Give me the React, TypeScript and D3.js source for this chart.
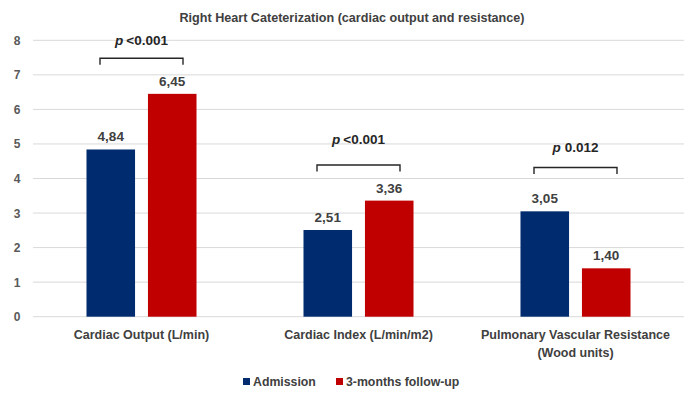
import React from 'react';
import * as d3 from 'd3';

const categories = ['Cardiac Output (L/min)', 'Cardiac Index (L/min/m2)', 'Pulmonary Vascular Resistance (Wood units)'];
const categoryLines = [['Cardiac Output (L/min)'], ['Cardiac Index (L/min/m2)'], ['Pulmonary Vascular Resistance', '(Wood units)']];
const series = ['Admission', '3-months follow-up'];
const admission = [4.84, 2.51, 3.05];
const followUp = [6.45, 3.36, 1.4];
const pLabels = ['<0.001', '<0.001', '0.012'];
const bracketLevels = [7.48, 4.39, 4.32];
const pTextLevels = [7.87, 4.99, 4.78];
const yTicks = [0, 1, 2, 3, 4, 5, 6, 7, 8];

const W = 694;
const H = 397;
const FONT = '"Liberation Sans", Arial, sans-serif';
const colors = ['#002B6F', '#C00000'];

export default function App() {
  const margin = { top: 40, right: 10, bottom: 80, left: 33 };
  const x0 = d3.scaleBand<string>()
    .domain(categories)
    .range([margin.left, W - margin.right])
    .paddingInner(0.493)
    .paddingOuter(0.2465);
  const x1 = d3.scaleBand<string>()
    .domain(series)
    .range([0, x0.bandwidth()])
    .paddingInner(0.21);
  const y = d3.scaleLinear().domain([0, 8]).range([316.7, 40.3]);

  const values = [admission, followUp];
  const fmt = (v: number) => v.toFixed(2).replace('.', ',');

  return (
    <svg width={W} height={H} style={{ position: 'absolute', left: 0, top: 0, background: '#fff' }} fontFamily={FONT}>
      <text x={352} y={22} textAnchor="middle" fontSize={12.6} fontWeight="bold" fill="#404040">
        Right Heart Cateterization (cardiac output and resistance)
      </text>

      {/* gridlines + y labels */}
      {yTicks.map(t => (
        <g key={t}>
          <line x1={margin.left} x2={W - margin.right} y1={y(t)} y2={y(t)} stroke="#d9d9d9" strokeWidth={1} />
          <text x={17} y={y(t) + 4.5} textAnchor="middle" fontSize={12} fontWeight="bold" fill="#595959">{t}</text>
        </g>
      ))}

      {/* bars */}
      {categories.map((c, ci) => (
        <g key={c} transform={`translate(${x0(c)},0)`}>
          {series.map((s, si) => {
            const v = values[si][ci];
            const bx = x1(s) as number;
            return (
              <g key={s}>
                <rect x={bx} y={y(v)} width={x1.bandwidth()} height={y(0) - y(v)} fill={colors[si]} />
                <text x={bx + x1.bandwidth() / 2} y={y(v) - 8} textAnchor="middle" fontSize={13.5} fontWeight="bold" fill="#404040">
                  {fmt(v)}
                </text>
              </g>
            );
          })}
        </g>
      ))}

      {/* significance brackets */}
      {categories.map((c, ci) => {
        const cx = (x0(c) as number) + x0.bandwidth() / 2;
        const by = y(bracketLevels[ci]);
        return (
          <g key={'b' + c}>
            <path d={`M${cx - 41.5},${by + 6.5}V${by}H${cx + 41.5}V${by + 6.5}`} fill="none" stroke="#262626" strokeWidth={1.4} />
            <text x={cx} y={y(pTextLevels[ci])} textAnchor="middle" fontSize={13.5} fontWeight="bold" fill="#262626">
              <tspan fontStyle="italic">p</tspan>
              <tspan dx={pLabels[ci].startsWith('<') ? 3 : 4}>{pLabels[ci]}</tspan>
            </text>
          </g>
        );
      })}

      {/* category labels */}
      {categories.map((c, ci) => {
        const cx = (x0(c) as number) + x0.bandwidth() / 2;
        return (
          <text key={'l' + c} x={cx} y={339} textAnchor="middle" fontSize={12.5} fontWeight="bold" fill="#404040">
            {categoryLines[ci].map((ln, li) => (
              <tspan key={li} x={cx} dy={li === 0 ? 0 : 18}>{ln}</tspan>
            ))}
          </text>
        );
      })}

      {/* legend */}
      {series.map((s, si) => {
        const lx = [243, 336][si];
        return (
          <g key={'lg' + s}>
            <rect x={lx} y={378} width={7} height={7} fill={colors[si]} />
            <text x={lx + 10} y={386} fontSize={12.3} fontWeight="bold" fill="#404040">{s}</text>
          </g>
        );
      })}
    </svg>
  );
}
